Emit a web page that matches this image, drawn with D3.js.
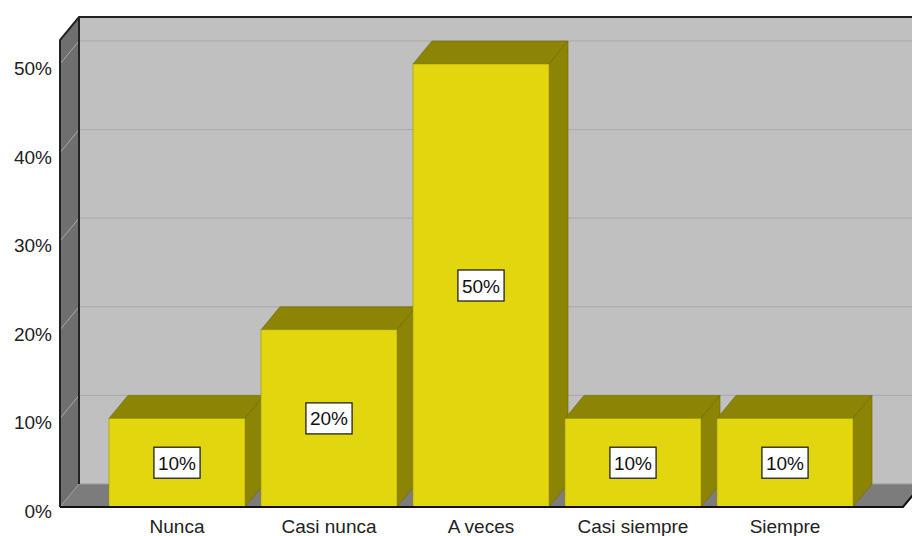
<!DOCTYPE html>
<html>
<head>
<meta charset="utf-8">
<script src="https://cdn.jsdelivr.net/npm/d3@7"></script>
<style>
  body { margin: 0; background: #fff; }
  svg { display: block; }
</style>
</head>
<body>
<div id="chart"></div>
<script>
// data
const categories = ["Nunca", "Casi nunca", "A veces", "Casi siempre", "Siempre"];
const percents = [10, 20, 50, 10, 10];
const tickValues = [0, 10, 20, 30, 40, 50];
const tickLabels = ["0%", "10%", "20%", "30%", "40%", "50%"];

const W = 912, H = 536;
const left = 60, right = 903;       // front plane x extent
const base = 507;                    // front plane y of 0%
const dx = 19, dy = -23;             // 3d depth offset
const yMax = 52.7;

const FONT = "'Liberation Sans', Arial, sans-serif";

const svg = d3.select("#chart").append("svg")
    .attr("width", W)
    .attr("height", H);

const y = d3.scaleLinear().domain([0, 50]).range([base, 64]);
const x = d3.scaleBand().domain(categories)
    .range([101, 861])
    .paddingInner(0.105)
    .paddingOuter(0.0525);

const plotTop = y(yMax);
const line = d3.line();

// back wall
svg.append("rect")
    .attr("x", left + dx).attr("y", plotTop + dy)
    .attr("width", W - left - dx + 20).attr("height", base - plotTop)
    .attr("fill", "#c0c0c0");

// left wall
svg.append("path")
    .attr("d", line([[left, plotTop], [left + dx, plotTop + dy], [left + dx, base + dy], [left, base]]) + "Z")
    .attr("fill", "#6f6f6f");

// floor
svg.append("path")
    .attr("d", line([[left, base], [left + dx, base + dy], [right + dx, base + dy], [right, base]]) + "Z")
    .attr("fill", "#7c7c7c");

// gridlines on walls
const grid = svg.append("g");
tickValues.forEach(v => {
    grid.append("path")
        .attr("d", line([[left, y(v)], [left + dx, y(v) + dy], [right + dx, y(v) + dy]]))
        .attr("fill", "none")
        .attr("stroke", v === 0 ? "#9a9a9a" : "#a9a9a9")
        .attr("stroke-width", 1);
});

// wall outlines
svg.append("path")
    .attr("d", line([[left, base], [left, plotTop], [left + dx, plotTop + dy], [W + 5, plotTop + dy]]))
    .attr("fill", "none").attr("stroke", "#222").attr("stroke-width", 2);
svg.append("path")
    .attr("d", line([[left + dx, plotTop + dy], [left + dx, base + dy]]))
    .attr("fill", "none").attr("stroke", "#222").attr("stroke-width", 2);

// bars
const bw = x.bandwidth();
const bars = svg.append("g");
categories.forEach((c, i) => {
    const x0 = x(c), yv = y(percents[i]);
    const g = bars.append("g");
    // top face
    g.append("path")
        .attr("d", line([[x0, yv], [x0 + dx, yv + dy], [x0 + bw + dx, yv + dy], [x0 + bw, yv]]) + "Z")
        .attr("fill", "#8b8405").attr("stroke", "#6e6804").attr("stroke-width", 0.6);
    // side face
    g.append("path")
        .attr("d", line([[x0 + bw, yv], [x0 + bw + dx, yv + dy], [x0 + bw + dx, base + dy], [x0 + bw, base]]) + "Z")
        .attr("fill", "#8b8405").attr("stroke", "#6e6804").attr("stroke-width", 0.6);
    // front face
    g.append("rect")
        .attr("x", x0).attr("y", yv)
        .attr("width", bw).attr("height", base - yv)
        .attr("fill", "#e2d60f").attr("stroke", "#9a9100").attr("stroke-width", 0.6);
});

// floor front edge
svg.append("path")
    .attr("d", line([[left, base], [right, base], [right + dx, base + dy]]))
    .attr("fill", "none").attr("stroke", "#111").attr("stroke-width", 2);

// y axis labels
svg.append("g").selectAll("text")
    .data(tickValues)
    .join("text")
    .attr("x", 52)
    .attr("y", d => y(d) + 11)
    .attr("text-anchor", "end")
    .attr("font-family", FONT)
    .attr("font-size", "19px")
    .attr("fill", "#222")
    .text((d, i) => tickLabels[i]);

// category labels
svg.append("g").selectAll("text")
    .data(categories)
    .join("text")
    .attr("x", d => x(d) + bw / 2)
    .attr("y", 533)
    .attr("text-anchor", "middle")
    .attr("font-family", FONT)
    .attr("font-size", "19px")
    .attr("fill", "#222")
    .text(d => d);

// value labels
const labels = svg.append("g");
categories.forEach((c, i) => {
    const cx = x(c) + bw / 2;
    const cy = (y(percents[i]) + base) / 2;
    const t = labels.append("text")
        .attr("x", cx)
        .attr("y", cy + 7)
        .attr("text-anchor", "middle")
        .attr("font-family", FONT)
        .attr("font-size", "19px")
        .attr("fill", "#111")
        .text(percents[i] + "%");
    const bb = t.node().getBBox();
    labels.insert("rect", "text")
        .attr("x", cx - (bb.width + 8) / 2)
        .attr("y", cy - 15.5)
        .attr("width", bb.width + 8)
        .attr("height", 31)
        .attr("fill", "#fff")
        .attr("stroke", "#111")
        .attr("stroke-width", 1.2);
});
</script>
</body>
</html>
